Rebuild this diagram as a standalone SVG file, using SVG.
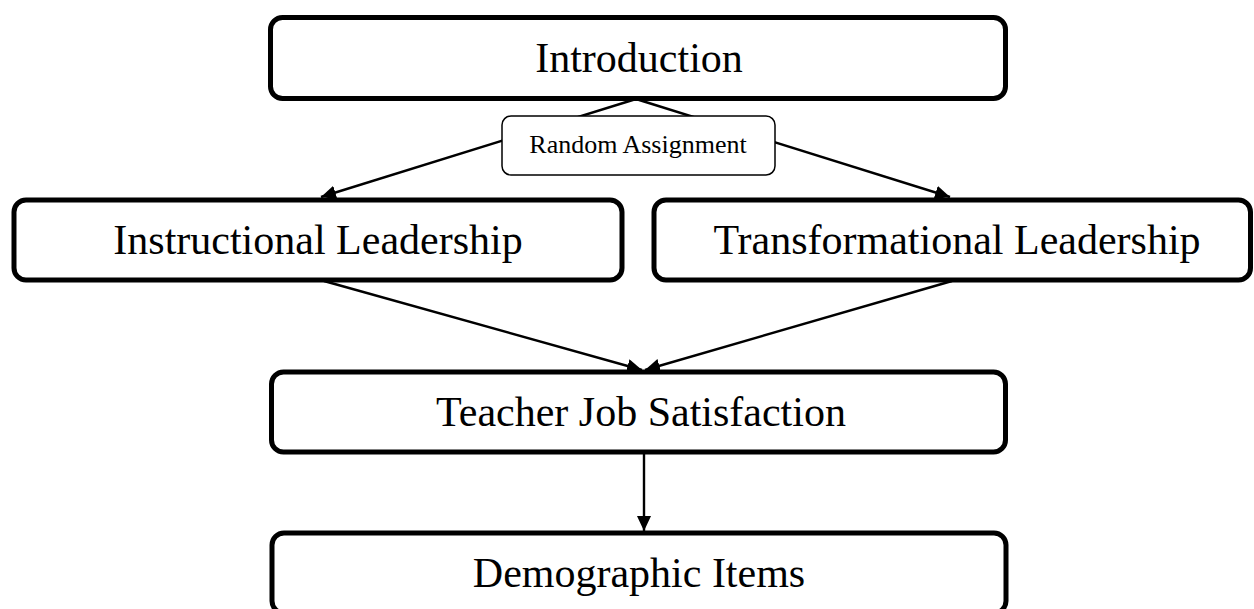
<svg xmlns="http://www.w3.org/2000/svg" width="1254" height="609" viewBox="0 0 1254 609">
  <style>
    .box { fill: #ffffff; stroke: #000000; stroke-width: 5; }
    .small { fill: #ffffff; stroke: #000000; stroke-width: 1.5; }
    .lbl { font-family: "Liberation Serif", "Times New Roman", serif; font-size: 42px; fill: #000000; text-anchor: middle; }
    .lbls { font-family: "Liberation Serif", "Times New Roman", serif; font-size: 26px; fill: #000000; text-anchor: middle; }
    .conn { stroke: #000000; stroke-width: 2.4; fill: none; marker-end: url(#arr); }
  </style>
  <defs>
    <marker id="arr" markerUnits="userSpaceOnUse" markerWidth="18" markerHeight="16" refX="15" refY="7" orient="auto">
      <path d="M0,0 L15,7 L0,14 Z" fill="#000000"/>
    </marker>
  </defs>
  <rect width="1254" height="609" fill="#ffffff"/>
  <g id="connectors">
    <line class="conn" x1="636" y1="99" x2="321" y2="197"/>
    <line class="conn" x1="636" y1="99" x2="950" y2="197"/>
    <line class="conn" x1="324" y1="281" x2="642" y2="370"/>
    <line class="conn" x1="952" y1="281" x2="645" y2="370"/>
    <line class="conn" x1="644" y1="453" x2="644" y2="531"/>
  </g>
  <g id="introduction">
    <rect class="box" x="270.5" y="17.5" width="735" height="81" rx="12"/>
    <text class="lbl" x="639" y="72">Introduction</text>
  </g>
  <g id="random-assignment">
    <rect class="small" x="502" y="116" width="273" height="59" rx="9"/>
    <text class="lbls" x="638" y="153">Random Assignment</text>
  </g>
  <g id="instructional-leadership">
    <rect class="box" x="14" y="200" width="608" height="80" rx="12"/>
    <text class="lbl" x="318" y="253.5">Instructional Leadership</text>
  </g>
  <g id="transformational-leadership">
    <rect class="box" x="654" y="200" width="596.5" height="80" rx="12"/>
    <text class="lbl" x="957" y="253.5">Transformational Leadership</text>
  </g>
  <g id="teacher-job-satisfaction">
    <rect class="box" x="271.5" y="372" width="734" height="80" rx="12"/>
    <text class="lbl" x="641" y="426">Teacher Job Satisfaction</text>
  </g>
  <g id="demographic-items">
    <rect class="box" x="272" y="533" width="734" height="80" rx="12"/>
    <text class="lbl" x="639" y="587">Demographic Items</text>
  </g>
</svg>
